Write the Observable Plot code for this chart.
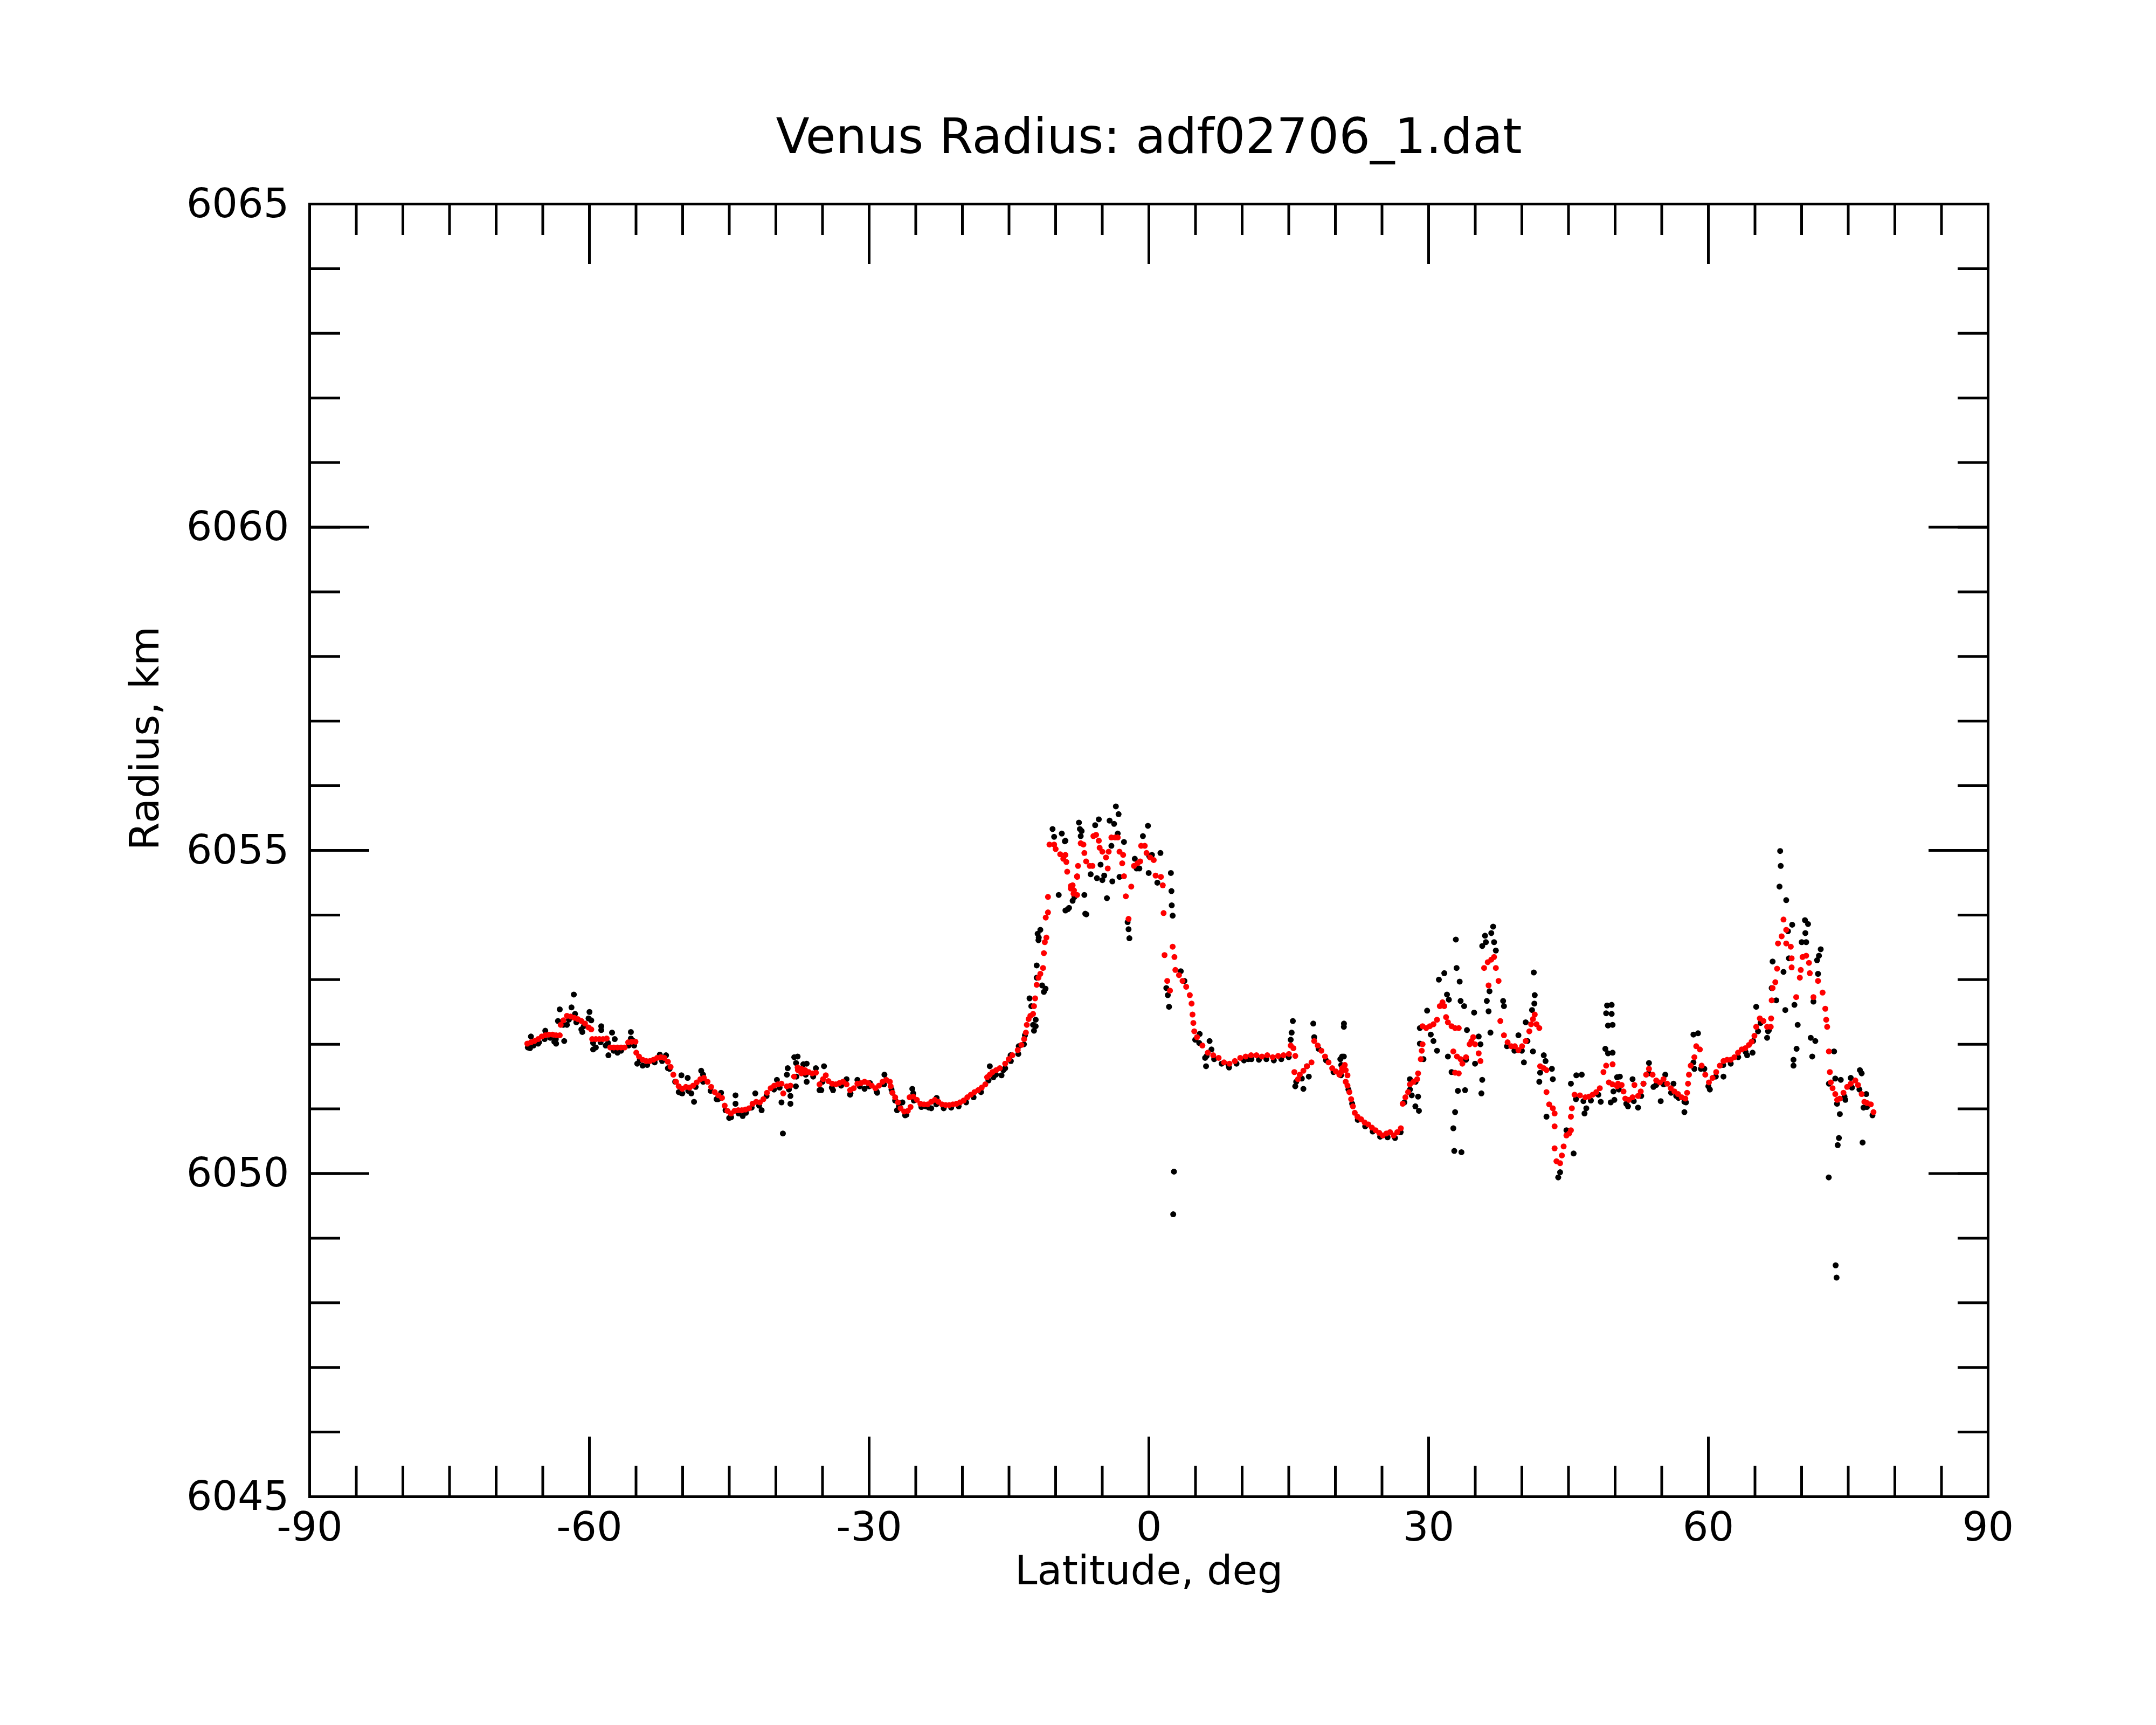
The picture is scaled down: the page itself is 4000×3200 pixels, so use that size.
<!DOCTYPE html>
<html>
<head>
<meta charset="utf-8">
<script src="https://cdn.jsdelivr.net/npm/d3@7"></script>
<script src="https://cdn.jsdelivr.net/npm/@observablehq/plot@0.6"></script>
<style>html,body{margin:0;padding:0;background:#fff;}</style>
</head>
<body>
<div id="chart"></div>
<script>
const chartTitle = "Venus Radius: adf02706_1.dat";
const xLabel = "Latitude, deg";
const yLabel = "Radius, km";
const xMajorTicks = [-90, -60, -30, 0, 30, 60, 90];
const xMinorTicks = [-90,-85,-80,-75,-70,-65,-60,-55,-50,-45,-40,-35,-30,-25,-20,-15,-10,-5,0,5,10,15,20,25,30,35,40,45,50,55,60,65,70,75,80,85,90];
const yMajorTicks = [6045, 6050, 6055, 6060, 6065];
const yMinorTicks = [6045,6046,6047,6048,6049,6050,6051,6052,6053,6054,6055,6056,6057,6058,6059,6060,6061,6062,6063,6064,6065];

// smoothed radius (red) : [latitude, radius]
const smoothSouth = [
[-66.66,6052.01],[-66.27,6052.03],[-65.89,6052.05],[-65.50,6052.08],[-65.11,6052.12],[-64.73,6052.14],[-64.34,6052.15],[-63.95,6052.15],[-63.57,6052.14],[-63.18,6052.14],
[-63.08,6052.30],[-62.79,6052.37],[-62.41,6052.44],[-62.02,6052.43],[-61.63,6052.41],[-61.25,6052.39],[-60.86,6052.36],[-60.47,6052.32],[-60.09,6052.26],[-59.80,6052.23],
[-59.70,6052.08],[-59.31,6052.08],[-58.93,6052.08],[-58.54,6052.08],[-58.15,6052.09],[-57.77,6051.95],[-57.38,6051.95],[-56.99,6051.95],[-56.61,6051.95],[-56.22,6051.95],[-55.84,6052.03],[-55.45,6052.04],[-55.06,6052.04],
[-54.97,6051.87],[-54.68,6051.81],[-54.29,6051.76],[-53.90,6051.74],[-53.52,6051.74],[-53.13,6051.76],[-52.74,6051.79],[-52.36,6051.80],[-51.97,6051.79],[-51.58,6051.73],[-51.29,6051.65],[-51.00,6051.53],[-50.71,6051.42],[-50.42,6051.35],[-50.04,6051.31],[-49.65,6051.34],[-49.26,6051.33],[-48.88,6051.36],[-48.49,6051.41],[-48.10,6051.46],[-47.72,6051.48],[-47.33,6051.42],[-46.94,6051.34],[-46.56,6051.26],[-46.17,6051.21],[-45.78,6051.17],[-45.49,6051.05],[-45.20,6050.97],[-44.82,6050.93],[-44.43,6050.97],[-44.04,6050.98],[-43.66,6050.98],[-43.27,6050.99],[-42.88,6051.01],[-42.50,6051.08],[-42.11,6051.11],[-41.72,6051.10],[-41.34,6051.15],[-40.95,6051.25],[-40.56,6051.32],[-40.18,6051.36],[-39.79,6051.38],[-39.40,6051.39],[-39.21,6051.24],[-38.83,6051.35],[-38.44,6051.36],[-38.05,6051.50],[-37.67,6051.64],[-37.28,6051.62],[-36.89,6051.56],
[-37.64,6051.60],[-37.26,6051.55],[-36.87,6051.60],[-36.48,6051.57],[-36.10,6051.55],[-35.71,6051.56],[-35.32,6051.38],[-34.94,6051.46],[-34.65,6051.52],[-34.36,6051.43],[-33.97,6051.39],[-33.58,6051.38],[-33.20,6051.40],[-32.81,6051.42],[-32.42,6051.38],[-32.04,6051.29],[-31.65,6051.32],[-31.26,6051.39],[-30.88,6051.40],[-30.49,6051.42],[-30.10,6051.40],[-29.72,6051.36],[-29.33,6051.32],[-28.94,6051.36],[-28.56,6051.42],[-28.17,6051.45],[-27.78,6051.42],[-27.69,6051.35],[-27.50,6051.25],[-27.21,6051.18],[-26.91,6051.10],[-26.63,6051.01],[-26.24,6050.96],[-25.85,6050.97],[-25.56,6051.03],
[-25.66,6051.18],[-25.27,6051.19],[-24.88,6051.14],[-24.50,6051.08],[-24.11,6051.07],[-23.73,6051.07],[-23.34,6051.11],[-22.95,6051.14],[-22.57,6051.11],[-22.18,6051.07],[-21.79,6051.06],[-21.41,6051.06],[-21.02,6051.07],[-20.63,6051.08],[-20.25,6051.10],[-19.86,6051.13],[-19.47,6051.18],[-19.09,6051.22],[-18.70,6051.26],[-18.31,6051.29],[-17.93,6051.33],[-17.54,6051.38],[-17.35,6051.49],[-17.06,6051.53],[-16.77,6051.57],[-16.38,6051.60],[-15.99,6051.63],[-15.41,6051.70],[-15.03,6051.77],[-14.64,6051.83],[-14.06,6051.91],[-13.67,6051.99],[-13.38,6052.08],[-13.19,6052.18],[-13.09,6052.30],[-12.90,6052.39],[-12.71,6052.44],[-12.42,6052.47],[-12.32,6052.59],[-12.20,6052.71],[-12.03,6052.92],[-11.84,6053.03],[-11.64,6053.09],[-11.35,6053.18],[-11.26,6053.41],[-11.16,6053.58],[-11.06,6053.96],
[-10.99,6053.65],[-10.82,6054.04],[-10.82,6054.28],[-10.66,6055.09],[-10.16,6055.09],[-10.00,6055.02],[-9.51,6054.94],[-9.18,6054.87],[-8.85,6054.82],[-8.36,6054.45],[-8.03,6054.38],[-7.70,6054.31],[-7.70,6054.60]
];
const smoothEquator = [
[-8.95,6054.93],[-8.76,6054.67],[-8.37,6054.41],[-8.08,6054.33],[-8.18,6054.46],[-7.69,6054.59],[-7.60,6054.76],[-7.31,6055.11],[-7.02,6055.09],[-6.92,6054.96],[-6.73,6054.83],[-6.34,6054.76],[-6.05,6054.76],[-5.95,6055.22],[-5.66,6055.24],[-5.37,6055.15],[-5.28,6055.04],[-4.99,6054.98],[-4.60,6054.89],[-4.41,6054.72],[-4.31,6054.98],[-4.02,6055.20],[-3.63,6055.20],[-3.34,6055.20],[-3.15,6054.98],[-2.76,6054.93],[-2.86,6054.80],[-2.67,6054.60],[-2.47,6054.29],[-1.89,6054.44],[-2.18,6053.94],[-1.60,6054.76],[-1.22,6054.80],[-0.93,6054.83],[-0.83,6055.07],[-0.44,6055.07],[-0.25,6054.96],[0.14,6054.89],[0.52,6054.85],[0.72,6054.61],[1.29,6054.59],[1.49,6054.46],[1.58,6054.03],[1.68,6053.38],[2.55,6053.51],[2.74,6053.35],[1.97,6052.98],[2.26,6052.83],[2.84,6053.15],[3.23,6053.07],[3.61,6052.98],[4.00,6052.89],[4.39,6052.76],[4.58,6052.63],[4.68,6052.46],[4.77,6052.33],[4.87,6052.20],[5.16,6052.11],[5.74,6051.98],[6.32,6051.87],[6.90,6051.83],[7.48,6051.79],[8.06,6051.72],[8.64,6051.70],[9.22,6051.74],[9.80,6051.79],[10.38,6051.81],[10.96,6051.83],[11.54,6051.83],[12.12,6051.81],[12.70,6051.83],[13.28,6051.80],[13.86,6051.82],[14.44,6051.83],[15.02,6051.85],[15.21,6051.98],[15.50,6051.94],[15.70,6051.82],
[15.60,6051.57],[15.99,6051.46],[16.18,6051.53],[16.57,6051.59],[16.95,6051.66],[17.44,6051.72],
[17.73,6052.05],[18.11,6051.98],[18.50,6051.90],[18.89,6051.81],[19.27,6051.72],[19.66,6051.63],[20.05,6051.58],[20.62,6051.57],[21.01,6051.68],[21.11,6051.42]
];
const smoothNorth = [
[20.43,6051.53],[20.72,6051.63],[21.11,6051.60],[21.30,6051.52],[21.30,6051.36],[21.50,6051.26],[21.69,6051.15],[21.88,6051.04],[22.08,6050.94],[22.37,6050.88],[22.76,6050.84],[23.14,6050.79],[23.53,6050.76],[23.92,6050.71],[24.31,6050.67],[24.70,6050.63],[25.08,6050.59],[25.47,6050.62],[25.86,6050.64],[26.25,6050.59],[26.64,6050.64],[27.02,6050.70],
[27.22,6051.08],[27.51,6051.18],[27.80,6051.26],[27.99,6051.38],[28.38,6051.42],[28.77,6051.46],[28.87,6051.55],[29.16,6051.77],[29.26,6051.90],[29.35,6052.00],[29.35,6052.28],[29.74,6052.25],[30.13,6052.28],[30.52,6052.31],[30.90,6052.38],[31.20,6052.59],[31.49,6052.65],[31.68,6052.59],[31.87,6052.42],[32.07,6052.34],[32.46,6052.28],[32.84,6052.25],[33.23,6052.25],[32.65,6051.89],[33.04,6051.81],[33.43,6051.77],[33.62,6051.70],[34.01,6051.80],[34.40,6052.00],[34.59,6052.05],[34.78,6052.11],[34.98,6052.00],[35.37,6051.86],[35.56,6051.74],[32.84,6051.56],[33.23,6051.55],
[35.95,6053.18],[36.34,6053.27],[36.72,6053.31],[37.02,6053.35],[37.21,6053.18],[36.43,6052.91],[37.50,6052.98],[37.69,6052.36],[38.08,6052.14],[38.47,6052.03],[38.86,6051.97],[39.25,6051.97],[39.63,6051.91],[40.02,6051.97],[40.41,6052.05],[40.80,6052.20],[40.99,6052.31],[41.19,6052.39],[41.38,6052.46],[41.57,6052.31],[41.87,6052.25],
[41.96,6051.66],[42.35,6051.63],[42.64,6051.60],[42.64,6051.26],[42.93,6051.07],[43.32,6051.01],[43.51,6050.93],[43.51,6050.73],[43.51,6050.39],[43.71,6050.19],[44.10,6050.16],[44.29,6050.28],[44.48,6050.42],[44.78,6050.59],[45.07,6050.62],[45.26,6050.67],[45.26,6050.88],[45.36,6051.01],[45.65,6051.22],[46.23,6051.21],[46.81,6051.18],[47.20,6051.19],[47.59,6051.22],[47.98,6051.26],[48.36,6051.32],[48.75,6051.57],[49.04,6051.67],[49.33,6051.41],[49.72,6051.38],[50.21,6051.35],
[49.73,6051.69],[50.31,6051.39],[50.70,6051.37],[50.90,6051.27],[51.09,6051.16],[51.48,6051.14],[51.87,6051.18],[52.07,6051.37],[52.46,6051.20],[52.75,6051.27],[53.04,6051.39],[53.33,6051.53],[53.63,6051.62],[54.02,6051.53],[54.41,6051.44],[54.80,6051.41],[55.19,6051.46],[55.58,6051.39],[55.97,6051.32],[56.36,6051.27],[56.75,6051.23],[57.14,6051.18],[57.53,6051.16],[57.72,6051.25],[57.82,6051.39],[57.92,6051.53],[58.11,6051.67],[58.50,6051.80],[58.70,6051.97],[59.09,6051.92],[59.28,6051.67],[59.67,6051.53],[60.06,6051.41],[60.45,6051.48],[60.84,6051.57],[61.23,6051.67],[61.62,6051.74],[62.01,6051.76],[62.40,6051.76],[62.79,6051.80],[63.18,6051.87],[63.57,6051.92],[63.96,6051.94],[64.35,6051.99],[64.64,6052.04],[64.94,6052.13],[65.13,6052.27],[65.52,6052.40],[65.91,6052.36],[66.30,6052.27],[66.69,6052.27],[66.73,6052.40],[66.79,6052.68],[66.89,6052.87],[67.18,6052.96],[67.37,6053.17],[67.47,6053.56],[67.86,6053.67],[68.06,6053.93],[68.35,6053.77],[68.35,6053.56],[68.84,6053.51],[68.93,6053.33],[68.93,6053.19],[69.81,6053.03],[69.42,6052.73],[69.91,6053.15],[70.10,6053.35],[70.49,6053.37],[70.79,6053.26],[70.88,6053.10],[71.27,6052.73],[71.76,6052.98],[72.25,6052.80],[72.54,6052.55],[72.64,6052.38],[72.74,6052.27],[72.93,6051.89],[73.03,6051.57],[73.13,6051.41],[73.32,6051.32],[73.61,6051.23],[73.81,6051.14],[74.10,6051.16],[74.49,6051.25],[74.88,6051.34],[75.27,6051.39],[75.76,6051.44],[76.05,6051.37],[76.44,6051.23],[76.73,6051.11],[77.03,6051.09],[77.42,6051.07],[77.71,6050.95]
];

// raw radius (black) : [latitude, radius]
const rawSouth = [
[-66.27,6052.12],[-66.37,6051.94],[-65.50,6052.01],[-64.73,6052.21],[-63.76,6052.04],[-63.57,6052.01],[-62.70,6052.05],[-63.18,6052.54],[-63.37,6052.36],[-61.92,6052.57],[-61.67,6052.77],[-61.54,6052.47],[-62.41,6052.30],[-60.86,6052.23],[-60.76,6052.19],[-59.99,6052.50],[-60.09,6052.40],[-59.80,6052.37],[-58.73,6052.28],[-58.73,6052.22],[-59.31,6051.95],[-59.60,6051.92],[-58.25,6051.98],[-57.96,6051.83],[-57.57,6052.18],[-57.28,6052.08],[-56.99,6051.87],[-55.55,6052.19],[-55.55,6052.09],[-55.26,6052.05],[-54.87,6051.70],[-54.29,6051.67],[-52.45,6051.84],[-51.78,6051.83],[-51.58,6051.63],[-50.13,6051.52],[-49.46,6051.48],[-50.42,6051.26],[-50.04,6051.24],[-48.78,6051.11],[-49.07,6051.24],[-48.01,6051.59],[-47.81,6051.53],[-45.88,6051.25],[-46.36,6051.15],[-44.33,6051.21],[-44.33,6051.08],[-45.01,6050.86],[-43.56,6050.89],[-42.21,6051.24],[-41.53,6050.98],[-39.89,6051.45],[-39.40,6051.10],[-38.73,6051.63],[-38.82,6051.53],[-38.44,6051.20],[-38.44,6051.08],[-39.25,6050.62],[-37.67,6051.81],[-36.70,6051.70],[-36.70,6051.42],[-37.86,6051.35],
[-38.03,6051.80],[-37.84,6051.71],[-37.06,6051.69],[-35.71,6051.63],[-34.84,6051.66],[-35.13,6051.29],[-35.32,6051.29],[-33.87,6051.29],[-32.42,6051.46],[-32.04,6051.22],[-31.26,6051.45],[-30.49,6051.31],[-29.91,6051.40],[-29.14,6051.25],[-28.36,6051.53],[-27.50,6051.25],[-27.21,6051.13],[-27.01,6050.98],[-26.43,6051.10],[-26.14,6050.90],[-25.37,6051.31],[-25.27,6051.24],[-23.92,6051.04],[-23.34,6051.01],[-22.76,6051.17],[-17.06,6051.66],[-16.67,6051.49],[-15.80,6051.52],[-15.41,6051.63],[-14.83,6051.83],[-13.96,6051.97],[-13.29,6052.14],[-12.42,6052.30],[-12.32,6052.21],[-12.61,6052.59],[-12.80,6052.71],[-12.03,6053.03],[-11.45,6052.91],[-11.26,6052.81],[-12.03,6053.22],[-11.93,6053.71],[-11.84,6053.61],
[-10.33,6055.33],[-10.16,6055.21],[-9.34,6055.26],[-9.01,6055.14],[-9.67,6054.31],[-8.69,6054.09],[-6.71,6054.01],[-11.64,6053.77],[-11.81,6053.65],[-11.08,6052.86],[-12.14,6052.38],[-12.14,6052.28]
];
const rawEquator = [
[-8.95,6055.15],[-8.95,6054.07],[-8.56,6054.11],[-8.18,6054.22],[-7.98,6054.28],[-7.50,6055.43],[-7.40,6055.33],[-7.31,6055.22],[-7.21,6055.30],[-6.82,6054.02],[-6.92,6054.31],[-6.24,6054.63],[-5.76,6055.39],[-5.37,6055.48],[-5.57,6054.57],[-5.18,6054.78],[-4.99,6054.54],[-4.79,6054.61],[-4.50,6054.26],[-4.21,6055.46],[-3.73,6055.41],[-3.54,6055.68],[-3.25,6055.56],[-3.34,6055.26],[-3.92,6054.52],[-4.02,6055.07],[-3.15,6054.59],[-2.67,6055.13],[-2.28,6053.89],[-2.18,6053.78],[-2.09,6053.64],[-1.51,6054.87],[-1.32,6054.72],[-1.02,6054.72],[-0.64,6055.22],[-0.10,6055.38],[0.04,6054.91],[-0.02,6054.65],[0.33,6054.93],[1.24,6054.96],[0.91,6054.50],[2.36,6054.65],[2.42,6054.37],[2.45,6054.15],[2.55,6053.99],[1.87,6052.87],[2.03,6052.76],[2.16,6052.58],[2.69,6050.03],[2.61,6049.37],[3.42,6053.13],[3.81,6052.98],[5.45,6052.16],[4.97,6052.07],[6.51,6052.05],[6.71,6051.92],[6.03,6051.79],[6.13,6051.66],[8.54,6051.68],[10.67,6051.77],[15.44,6052.36],[15.31,6052.18],[15.21,6052.07],[15.70,6051.35],[16.57,6051.31],[17.15,6051.50],[16.95,6051.66],[17.63,6052.32],[17.73,6052.11],[20.92,6052.32],[20.72,6051.81],[20.63,6051.68]
];
const rawNorth = [
[20.91,6052.27],[20.91,6051.81],[20.53,6051.77],[27.99,6051.46],[28.19,6051.21],[28.58,6051.04],[28.96,6050.97],[28.87,6051.19],[29.06,6052.01],[29.06,6052.25],[29.45,6051.77],[29.84,6052.52],[30.23,6052.15],[30.52,6052.05],[30.90,6051.90],[31.10,6053.00],[31.68,6053.10],[31.97,6052.77],[32.17,6052.69],[32.92,6053.62],[33.00,6053.18],[33.33,6052.97],[33.43,6052.67],[33.81,6052.59],[32.07,6051.81],[32.46,6051.57],[34.88,6052.49],[34.11,6052.22],[35.37,6052.12],[35.56,6052.00],[34.01,6051.76],[34.98,6051.70],[35.75,6051.45],[35.66,6051.24],[33.91,6051.29],[33.14,6051.28],[32.84,6050.95],[32.65,6050.70],[32.75,6050.35],[33.52,6050.33],[36.05,6053.68],[35.75,6053.52],[36.14,6053.58],[36.72,6053.72],[36.92,6053.82],[37.02,6053.58],[37.21,6053.45],[36.53,6052.82],[36.24,6052.67],[36.43,6052.51],[36.63,6052.18],[37.99,6052.67],[38.08,6052.59],[41.28,6053.11],[41.38,6052.76],[41.34,6052.63],[41.09,6052.53],[40.41,6052.34],[41.19,6051.89],[40.22,6051.72],[39.63,6052.14],[42.35,6051.83],[42.54,6051.74],[43.22,6051.62],[43.32,6051.46],[41.96,6051.56],[41.87,6051.42],[42.64,6050.88],[44.10,6050.02],[43.90,6049.94],[44.78,6050.67],[45.55,6050.31],[45.26,6051.39],[45.84,6051.52],[46.42,6051.53],[46.91,6051.01],[46.72,6050.93],[48.46,6051.11],[49.53,6051.10],[48.95,6051.93],[49.24,6051.86],[49.14,6052.60],[49.04,6052.48],[49.24,6052.29],[50.21,6051.49],
[49.63,6052.61],[49.63,6052.47],[49.73,6052.30],[49.73,6051.87],[49.82,6051.27],[49.92,6051.14],[50.51,6051.50],[51.38,6051.04],[51.87,6051.46],[52.46,6051.02],[53.04,6051.39],[53.63,6051.71],[54.11,6051.34],[54.89,6051.12],[55.38,6051.53],[56.26,6051.39],[56.55,6051.20],[57.43,6050.95],[57.43,6051.11],[58.40,6052.15],[58.89,6052.17],[58.50,6051.62],[59.57,6051.62],[60.16,6051.30],[61.62,6051.50],[64.16,6051.83],[64.74,6051.87],[65.13,6052.58],[65.33,6052.20],[66.30,6052.10],[66.50,6052.22],[66.89,6053.28],[66.79,6052.87],[67.28,6052.68],[67.70,6054.99],[67.76,6054.76],[67.63,6054.44],[68.35,6054.23],[68.99,6053.85],[68.54,6053.75],[68.64,6053.33],[68.06,6053.12],[68.25,6052.53],[69.23,6052.61],[69.58,6052.30],[69.46,6051.93],[69.13,6051.76],[69.13,6051.67],[70.36,6053.92],[70.69,6053.86],[70.40,6053.72],[70.01,6053.58],[70.49,6053.58],[72.05,6053.47],[71.86,6053.37],[71.66,6053.30],[71.76,6053.09],[71.27,6052.66],[70.98,6052.10],[71.47,6052.05],[71.14,6051.81],[73.48,6051.89],[72.93,6051.39],[73.61,6051.47],[74.20,6051.45],[74.10,6050.92],[74.00,6050.55],[73.87,6050.44],[72.91,6049.94],[73.65,6048.58],[73.75,6048.39],[76.25,6051.60],[75.27,6051.48],[76.44,6051.55],[76.93,6051.23],[76.64,6051.02],[76.54,6050.48],[74.69,6051.14]
];
// raw points lying just under the smoothed curve
const rawAlongCurve = [
[-66.6,6051.95],[-66.0,6051.98],[-65.4,6052.03],[-64.8,6052.08],[-64.2,6052.10],[-63.6,6052.08],[-62.8,6052.30],[-62.2,6052.38],[-61.4,6052.34],[-60.6,6052.28],[-59.6,6052.02],[-58.8,6052.03],[-58.0,6052.02],[-57.4,6051.90],[-56.6,6051.90],[-55.8,6051.98],[-55.2,6051.98],
[-54.6,6051.75],[-53.8,6051.68],[-53.0,6051.72],[-52.2,6051.74],[-51.4,6051.62],[-50.8,6051.42],[-50.2,6051.25],[-49.4,6051.28],[-48.6,6051.34],[-47.8,6051.42],[-47.0,6051.28],[-46.2,6051.15],[-45.4,6050.98],[-44.8,6050.87],[-44.0,6050.93],[-43.2,6050.94],[-42.6,6051.02],[-41.8,6051.05],[-41.0,6051.20],[-40.2,6051.30],[-39.6,6051.33],[-38.6,6051.30],[-37.8,6051.50],
[-36.8,6051.53],[-36.0,6051.50],[-35.0,6051.42],[-34.0,6051.33],[-33.0,6051.36],[-32.0,6051.24],[-31.0,6051.35],[-30.0,6051.35],[-29.2,6051.27],[-28.4,6051.38],[-27.6,6051.30],[-26.8,6051.04],[-26.0,6050.91],
[-25.2,6051.13],[-24.4,6051.03],[-23.6,6051.02],[-22.8,6051.07],[-22.0,6051.01],[-21.2,6051.02],[-20.4,6051.04],[-19.6,6051.10],[-18.8,6051.18],[-18.0,6051.26],[-17.2,6051.44],[-16.4,6051.53],[-15.6,6051.60],[-14.8,6051.74],[-14.0,6051.85],[-13.4,6052.00],
[5.4,6052.02],[6.2,6051.82],[7.0,6051.77],[7.8,6051.70],[8.6,6051.64],[9.4,6051.70],[10.2,6051.75],[11.0,6051.77],[11.8,6051.76],[12.6,6051.77],[13.4,6051.75],[14.2,6051.77],[15.0,6051.80],
[15.8,6051.42],[16.4,6051.47],
[18.2,6051.93],[19.0,6051.75],[19.8,6051.57],[20.6,6051.52],[21.4,6051.30],[21.8,6051.08],[22.4,6050.83],[23.2,6050.73],[24.0,6050.65],[24.8,6050.57],[25.6,6050.56],[26.4,6050.55],[27.0,6050.64],
[27.4,6051.10],[28.0,6051.30],[28.6,6051.42],
[38.4,6051.97],[39.2,6051.90],[40.0,6051.90],[40.6,6052.05],
[45.8,6051.15],[46.6,6051.12],[47.4,6051.13],[48.2,6051.22],
[50.4,6051.30],[51.2,6051.08],[52.0,6051.12],[52.8,6051.20],[53.6,6051.55],[54.4,6051.37],[55.2,6051.38],[56.0,6051.25],[56.8,6051.17],[57.6,6051.10],[58.4,6051.72],[59.2,6051.62],[60.0,6051.35],[60.8,6051.50],[61.6,6051.68],[62.4,6051.70],[63.2,6051.80],[64.0,6051.88],[64.8,6052.05],[65.6,6052.33],[66.4,6052.20],
[73.8,6051.08],[74.6,6051.19],[75.4,6051.33],[76.2,6051.30],[77.0,6051.03],[77.6,6050.90]
];

const raw = [...rawSouth, ...rawEquator, ...rawNorth, ...rawAlongCurve];
const smooth = [...smoothSouth, ...smoothEquator, ...smoothNorth];

const lw = 5;
const fmt = d => String(d);
const chart = Plot.plot({
  width: 4000,
  height: 3200,
  marginLeft: 574,
  marginRight: 312,
  marginTop: 378,
  marginBottom: 424,
  x: {domain: [-90, 90]},
  y: {domain: [6045, 6065]},
  style: {fontFamily: "DejaVu Sans", fontSize: "75px", background: "white", color: "black"},
  marks: [
    Plot.dot(raw, {x: d => d[0], y: d => d[1], r: 5.5, fill: "black", stroke: null}),
    Plot.dot(smooth, {x: d => d[0], y: d => d[1], r: 5.5, fill: "#ff0000", stroke: null}),
    // inward ticks
    Plot.axisX(xMinorTicks, {anchor: "bottom", tickSize: -57, strokeWidth: lw, tickFormat: () => "", label: null}),
    Plot.axisX(xMajorTicks, {anchor: "bottom", tickSize: -111, strokeWidth: lw, tickFormat: () => "", label: null}),
    Plot.axisX(xMinorTicks, {anchor: "top", tickSize: -57, strokeWidth: lw, tickFormat: () => "", label: null}),
    Plot.axisX(xMajorTicks, {anchor: "top", tickSize: -111, strokeWidth: lw, tickFormat: () => "", label: null}),
    Plot.axisY(yMinorTicks, {anchor: "left", tickSize: -57, strokeWidth: lw, tickFormat: () => "", label: null}),
    Plot.axisY(yMajorTicks, {anchor: "left", tickSize: -111, strokeWidth: lw, tickFormat: () => "", label: null}),
    Plot.axisY(yMinorTicks, {anchor: "right", tickSize: -57, strokeWidth: lw, tickFormat: () => "", label: null}),
    Plot.axisY(yMajorTicks, {anchor: "right", tickSize: -111, strokeWidth: lw, tickFormat: () => "", label: null}),
    // tick labels
    Plot.axisX(xMajorTicks, {anchor: "bottom", tickSize: 0, tickPadding: 28, tickFormat: fmt, label: null, fontSize: 75}),
    Plot.axisY(yMajorTicks, {anchor: "left", tickSize: 0, tickPadding: 38, tickFormat: fmt, label: null, fontSize: 75}),
    Plot.frame({stroke: "black", strokeWidth: lw}),
    // titles
    Plot.text([chartTitle], {text: d => d, frameAnchor: "top", dy: -95, lineAnchor: "bottom", fontSize: 91}),
    Plot.text([xLabel], {text: d => d, frameAnchor: "bottom", dy: 162, lineAnchor: "bottom", fontSize: 75}),
    Plot.text([yLabel], {text: d => d, frameAnchor: "left", dx: -305, rotate: -90, lineAnchor: "middle", fontSize: 75})
  ]
});
document.getElementById("chart").appendChild(chart);
</script>
</body>
</html>
